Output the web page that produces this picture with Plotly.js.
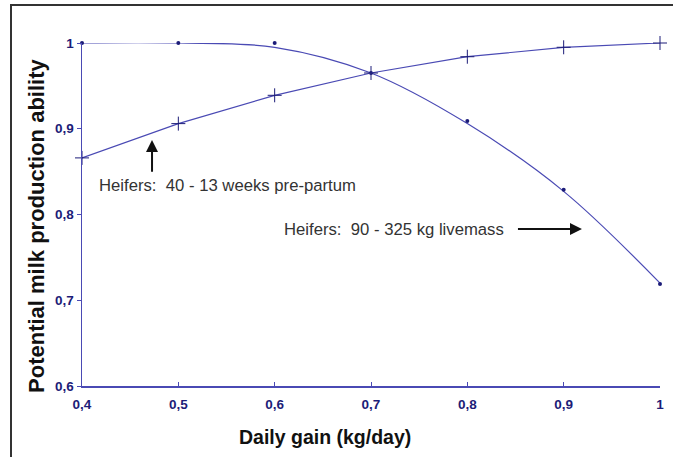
<!DOCTYPE html>
<html>
<head>
<meta charset="utf-8">
<script src="https://cdn.plot.ly/plotly-3.0.1.min.js"></script>
<style>
html,body{margin:0;padding:0;background:#fff;}
#wrap{position:relative;width:673px;height:457px;overflow:hidden;}
#chart{position:absolute;left:0;top:0;width:673px;height:457px;}
#frame{position:absolute;left:10px;top:4px;width:700px;height:500px;border-left:2px solid #333;border-top:2px solid #333;pointer-events:none;}
</style>
</head>
<body>
<div id="wrap"><div id="chart"></div><div id="frame"></div></div>
<script>
// Daily gain (kg/day)
var dailyGain = [0.4, 0.5, 0.6, 0.7, 0.8, 0.9, 1.0];
// Heifers 90 - 325 kg livemass: observed points and fitted curve
var livemassPoints = [1.0, 1.0, 1.0, 0.965, 0.909, 0.829, 0.719];
var livemassFit    = [1.0, 1.0, 0.995, 0.965, 0.906, 0.827, 0.72];
// Heifers 40 - 13 weeks pre-partum
var prepartum = [0.866, 0.906, 0.939, 0.965, 0.984, 0.995, 1.0];

var xTicks = [0.4, 0.5, 0.6, 0.7, 0.8, 0.9, 1.0];
var yTicks = [0.6, 0.7, 0.8, 0.9, 1.0];
var xTitle = 'Daily gain (kg/day)';
var yTitle = 'Potential milk production ability';

var lineCol = '#4a4ab4';
var markCol = '#1c1c78';

var traces = [
  {x: dailyGain, y: livemassFit, mode: 'lines', line: {color: lineCol, width: 1.2, shape: 'spline', smoothing: 1}, hoverinfo: 'skip', cliponaxis: false},
  {x: dailyGain, y: livemassPoints, mode: 'markers', marker: {color: markCol, size: 4, symbol: 'circle'}, cliponaxis: false},
  {x: dailyGain, y: prepartum, mode: 'lines+markers', line: {color: lineCol, width: 1.2}, marker: {color: markCol, size: 10, symbol: 'cross-thin-open', line: {color: markCol, width: 1}}, cliponaxis: false}
];

var fam = 'Liberation Sans, Arial, sans-serif';
var tickFont = {family: fam, size: 13.5, color: '#1c1c78', weight: 'bold'};
var noteFont = {family: fam, size: 16.7, color: '#333'};

var layout = {
  width: 673, height: 457,
  margin: {l: 82, r: 13, t: 43, b: 71},
  paper_bgcolor: 'rgba(0,0,0,0)', plot_bgcolor: '#fff',
  showlegend: false,
  xaxis: {
    range: [0.4, 1.0], tickvals: xTicks, ticktext: xTicks.map(function(v){return String(v).replace('.', ',');}),
    showgrid: false, zeroline: false, showline: true, linecolor: lineCol, linewidth: 1.5,
    ticks: 'inside', ticklen: 4, tickcolor: lineCol, tickfont: tickFont, ticklabelstandoff: 5
  },
  yaxis: {
    range: [0.6, 1.0], tickvals: yTicks, ticktext: yTicks.map(function(v){return String(v).replace('.', ',');}),
    showgrid: false, zeroline: false, showline: true, linecolor: lineCol, linewidth: 1.5,
    ticks: 'outside', ticklen: 4, tickcolor: lineCol, tickfont: tickFont
  },
  annotations: [
    {x: 0.4196, y: -0.1487, xref: 'paper', yref: 'paper', xanchor: 'center', yanchor: 'middle', showarrow: false,
     text: xTitle, font: {family: fam, size: 19.5, color: '#111', weight: 'bold'}},
    {x: -0.0779, y: 0.4665, xref: 'paper', yref: 'paper', xanchor: 'center', yanchor: 'middle', showarrow: false,
     textangle: -90, text: yTitle, font: {family: fam, size: 22, color: '#111', weight: 'bold'}},
    {x: 0.4727, y: 0.887, ax: 0.4727, ay: 0.848, xref: 'x', yref: 'y', axref: 'x', ayref: 'y',
     showarrow: true, arrowhead: 2, arrowsize: 1.2, arrowwidth: 2, arrowcolor: '#111', text: ''},
    {x: 0.4156, y: 0.834, xref: 'x', yref: 'y', xanchor: 'left', yanchor: 'middle', showarrow: false,
     text: 'Heifers:\u00a0\u00a040 - 13 weeks pre-partum', font: noteFont},
    {x: 0.6076, y: 0.783, xref: 'x', yref: 'y', xanchor: 'left', yanchor: 'middle', showarrow: false,
     text: 'Heifers:\u00a0\u00a090 - 325 kg livemass', font: noteFont},
    {x: 0.919, y: 0.783, ax: 0.851, ay: 0.783, xref: 'x', yref: 'y', axref: 'x', ayref: 'y',
     showarrow: true, arrowhead: 2, arrowsize: 1.2, arrowwidth: 2, arrowcolor: '#111', text: ''}
  ]
};

Plotly.newPlot('chart', traces, layout, {displayModeBar: false, staticPlot: true});
</script>
</body>
</html>
